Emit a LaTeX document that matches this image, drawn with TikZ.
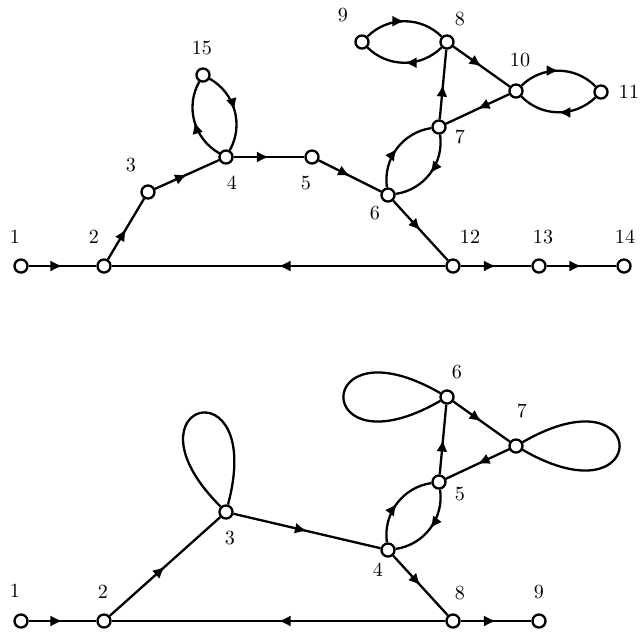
\documentclass[tikz,border=0pt]{standalone}
\usetikzlibrary{arrows.meta,decorations.markings}

\tikzset{
  vtx/.style={circle, draw, fill=white, minimum size=6.5pt, inner sep=0pt},
  lbl/.style={inner sep=0pt},
  midarrow/.style={postaction={decorate},
    decoration={markings, mark=at position 0.5 with {\arrow{Latex[length=6pt,width=5.5pt]}}}},
  twin/.style={midarrow, bend left=45, looseness=1}
}

\begin{document}
\begin{tikzpicture}[x=0.0175cm, y=0.0175cm, line width=1.15pt]
  \useasboundingbox (0,0) rectangle (641,-633);

  % Upper graph: vertices and their numbers
  \foreach \n/\x/\y/\lx/\ly in {1/21/266/15/237, 2/104/266/94/237, 3/148/192/131/165,
      4/226/157/232/183, 5/312/157/306/183, 6/388/195/375/213, 7/439/127/460/137,
      8/447/42/460/19, 9/362/42/343/15, 10/516/91/520/60, 11/601/92/629/92,
      12/453/266/470/237, 13/539/266/543/237, 14/624/266/625/237, 15/203/75/202/48}
  {
    \node[vtx] (t\n) at (\x,-\y) {};
    \node[lbl] (tl\n) at (\lx,-\ly) {\n};
  }

  % Upper graph: arcs
  \foreach \a/\b in {1/2, 12/2, 2/3, 3/4, 4/5, 5/6, 6/12, 7/8, 8/10, 10/7, 12/13, 13/14}
    \draw[midarrow] (t\a) -- (t\b);
  \foreach \a/\b in {4/15, 15/4, 9/8, 8/9, 10/11, 11/10, 6/7, 7/6}
    \draw[twin] (t\a) to (t\b);

  % Lower graph: vertices and their numbers
  \foreach \n/\x/\y/\lx/\ly in {1/21/621/15/591, 2/104/621/103/592, 3/226/512/230/538,
      4/388/550/378/570, 5/439/482/460/494, 6/447/397/457/372, 7/516/446/522/411,
      8/453/621/460/593, 9/539/621/539/592}
  {
    \node[vtx] (b\n) at (\x,-\y) {};
    \node[lbl] (bl\n) at (\lx,-\ly) {\n};
  }

  % Lower graph: arcs
  \foreach \a/\b in {1/2, 8/2, 2/3, 3/4, 4/8, 5/6, 6/7, 7/5, 8/9}
    \draw[midarrow] (b\a) -- (b\b);
  \foreach \a/\b in {4/5, 5/4}
    \draw[twin] (b\a) to (b\b);

  % Loops
  \draw (b3) .. controls +(135:155) and +(75:155) .. (b3);
  \draw (b6) .. controls +(150:157) and +(210:157) .. (b6);
  \draw (b7) .. controls +(30:157) and +(-30:157) .. (b7);
\end{tikzpicture}
\end{document}
